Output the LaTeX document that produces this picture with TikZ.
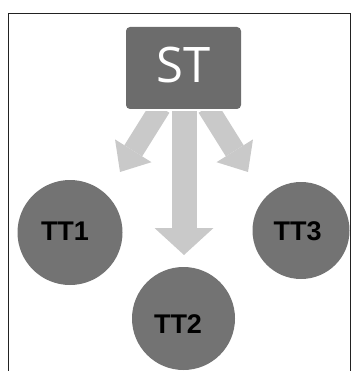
\documentclass[tikz,border=0pt]{standalone}
\usepackage{fontspec}
\newfontfamily\stfont{Open Sans}
\newfontfamily\ttfont{Liberation Sans}
\usetikzlibrary{arrows.meta,calc}
\definecolor{boxgray}{HTML}{6C6C6C}
\definecolor{circgray}{HTML}{737373}
\definecolor{arrowgray}{HTML}{C9C9C9}
\definecolor{framegray}{HTML}{222222}
\tikzset{
  stbox/.style={draw=none, fill=boxgray, rounded corners=4pt, minimum width=115pt, minimum height=82pt, inner sep=0pt},
  tcirc/.style={circle, fill=circgray, draw=none, inner sep=0pt},
  sttext/.style={anchor=base, inner sep=0pt, text=white, font=\stfont\fontsize{49pt}{49pt}\selectfont},
  tttext/.style={anchor=base, inner sep=0pt, text=black, font=\ttfont\bfseries\fontsize{27pt}{27pt}\selectfont},
  sidearrow/.style={draw=arrowgray, line width=21pt, -{Triangle[width=43pt, length=25pt, line width=0pt]}},
  midarrow/.style={draw=arrowgray, line width=25pt, -{Triangle[width=59pt, length=27pt, line width=0pt]}},
}
\begin{document}
\begin{tikzpicture}[x=1pt, y=-1pt]
\useasboundingbox (0,0) rectangle (351,371);
% frame
\draw[framegray, line width=1.4pt] (8.5,371) -- (8.5,13.5) -- (350.6,13.5) -- (350.6,371);
% nodes
\node[stbox] (ST) at (183.5,68) {};
\node[sttext] (STt) at (183.5,83) {ST};
\node[tcirc, minimum size=105pt] (TT1) at (70,232.5) {};
\node[tcirc, minimum size=97pt] (TT3) at (301,230.5) {};
\node[tcirc, minimum size=103pt] (TT2) at (183.5,318.5) {};
\node[tttext] (TT1t) at (65,240) {TT1};
\node[tttext] (TT3t) at (297.5,240) {TT3};
\node[tttext] (TT2t) at (178,333) {TT2};
% connector end points
\coordinate (s1) at ($(ST.south)+(-23,-2)$);
\coordinate (s2) at ($(ST.south)+(0.5,-8)$);
\coordinate (s3) at ($(ST.south)+(24,-2)$);
\coordinate (e1) at (120,172);
\coordinate (e2) at (184,255);
\coordinate (e3) at (248,172);
\begin{scope}
\clip (0,112) rectangle (351,371);
\draw[sidearrow] (s1) -- (e1);
\draw[sidearrow] (s3) -- (e3);
\draw[midarrow] (s2) -- (e2);
\end{scope}
\end{tikzpicture}
\end{document}
